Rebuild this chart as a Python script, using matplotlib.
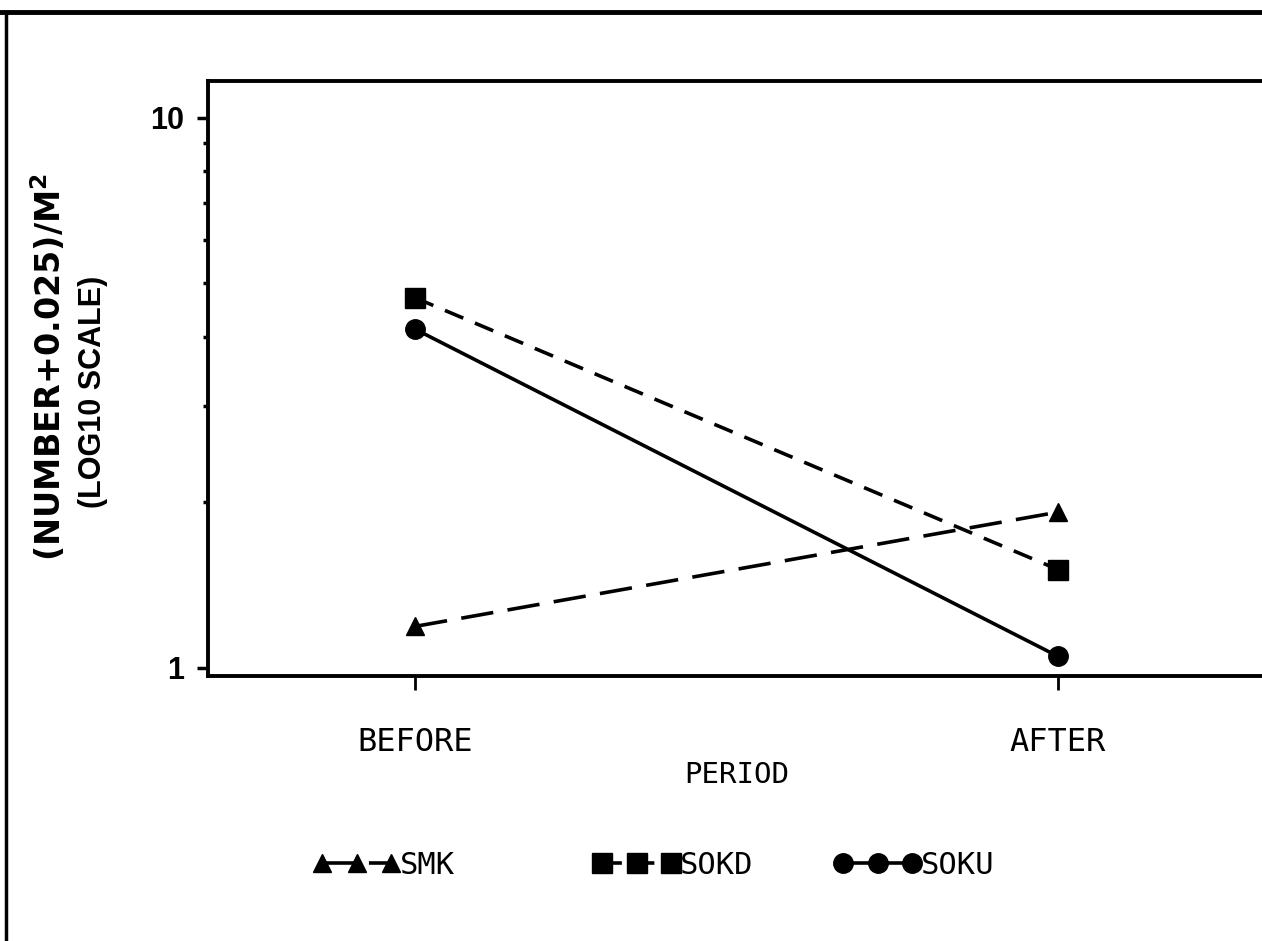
import numpy as np
import matplotlib
matplotlib.use('Agg')
import matplotlib.pyplot as plt
from matplotlib.ticker import LogLocator, NullFormatter, FixedLocator, FixedFormatter
from matplotlib.lines import Line2D

# data
periods = ['BEFORE', 'AFTER']
smk = [1.19, 1.92]
sokd = [4.71, 1.51]
soku = [4.13, 1.05]

MONO = ['DejaVu Sans Mono']
ARIAL = ['Liberation Sans', 'DejaVu Sans']

fig = plt.figure(figsize=(12.62, 9.41), dpi=100)
ax = fig.add_axes([208/1262, 1-676/941, (1265-208)/1262, (676-81)/941])

x = np.arange(len(periods))
lw = 2.6
l1, = ax.plot(x, smk, color='black', lw=lw, ls=(0, (9, 4)), marker='^', ms=13, label='SMK')
l2, = ax.plot(x, sokd, color='black', lw=lw, ls=(0, (5.5, 3.5)), marker='s', ms=14, label='SOKD')
l3, = ax.plot(x, soku, color='black', lw=lw, ls='-', marker='o', ms=14, label='SOKU')

ax.set_yscale('log')
ax.set_ylim(0.967, 11.67)
ax.set_xlim(-0.322, 1.322)

ax.yaxis.set_major_locator(FixedLocator([1, 10]))
ax.yaxis.set_major_formatter(FixedFormatter(['1', '10']))
ax.yaxis.set_minor_locator(LogLocator(base=10, subs=np.arange(2, 10)))
ax.yaxis.set_minor_formatter(NullFormatter())
ax.tick_params(axis='y', which='major', length=8, width=2.5, labelsize=22, pad=9)
ax.tick_params(axis='y', which='minor', length=3.5, width=2.5)
for t in ax.get_yticklabels():
    t.set_fontweight('bold')
    t.set_family(ARIAL)

ax.set_xticks(x)
ax.set_xticklabels(periods, family=MONO, fontsize=23)
ax.tick_params(axis='x', length=10, width=2, pad=27)

for s in ['left', 'bottom', 'top']:
    ax.spines[s].set_linewidth(2.8)
ax.spines['right'].set_visible(False)

ax.set_xlabel('PERIOD', family=MONO, fontsize=21, labelpad=2)

# y label, two lines drawn separately (first line is set wider in the original)
fig.text(49/1262, 1-367/941, '(NUMBER+0.025)/M$^\\mathbf{2}$', rotation=90,
         ha='center', va='center', fontsize=24, fontweight='bold', family=['DejaVu Sans'])
fig.text(93/1262, 1-392/941, '(LOG10 SCALE)', rotation=90,
         ha='center', va='center', fontsize=22, fontweight='bold', family=ARIAL)

# one legend per entry, as in the original plot
for line, xpos in [(l1, 313), (l2, 593), (l3, 834)]:
    fig.legend(handles=[line], loc='center left', bbox_to_anchor=(xpos/1262, 1-865/941),
               numpoints=3, frameon=False, handlelength=2.85, handletextpad=0.0,
               borderpad=0, borderaxespad=0, prop={'family': MONO, 'size': 22})

# frame lines of the scanned page
fig.add_artist(Line2D([0, 1], [1-12/941, 1-12/941], color='black', lw=3.5))
fig.add_artist(Line2D([6/1262, 6/1262], [0, 1-12/941], color='black', lw=2.5))

fig.savefig('out.png', dpi=100)
